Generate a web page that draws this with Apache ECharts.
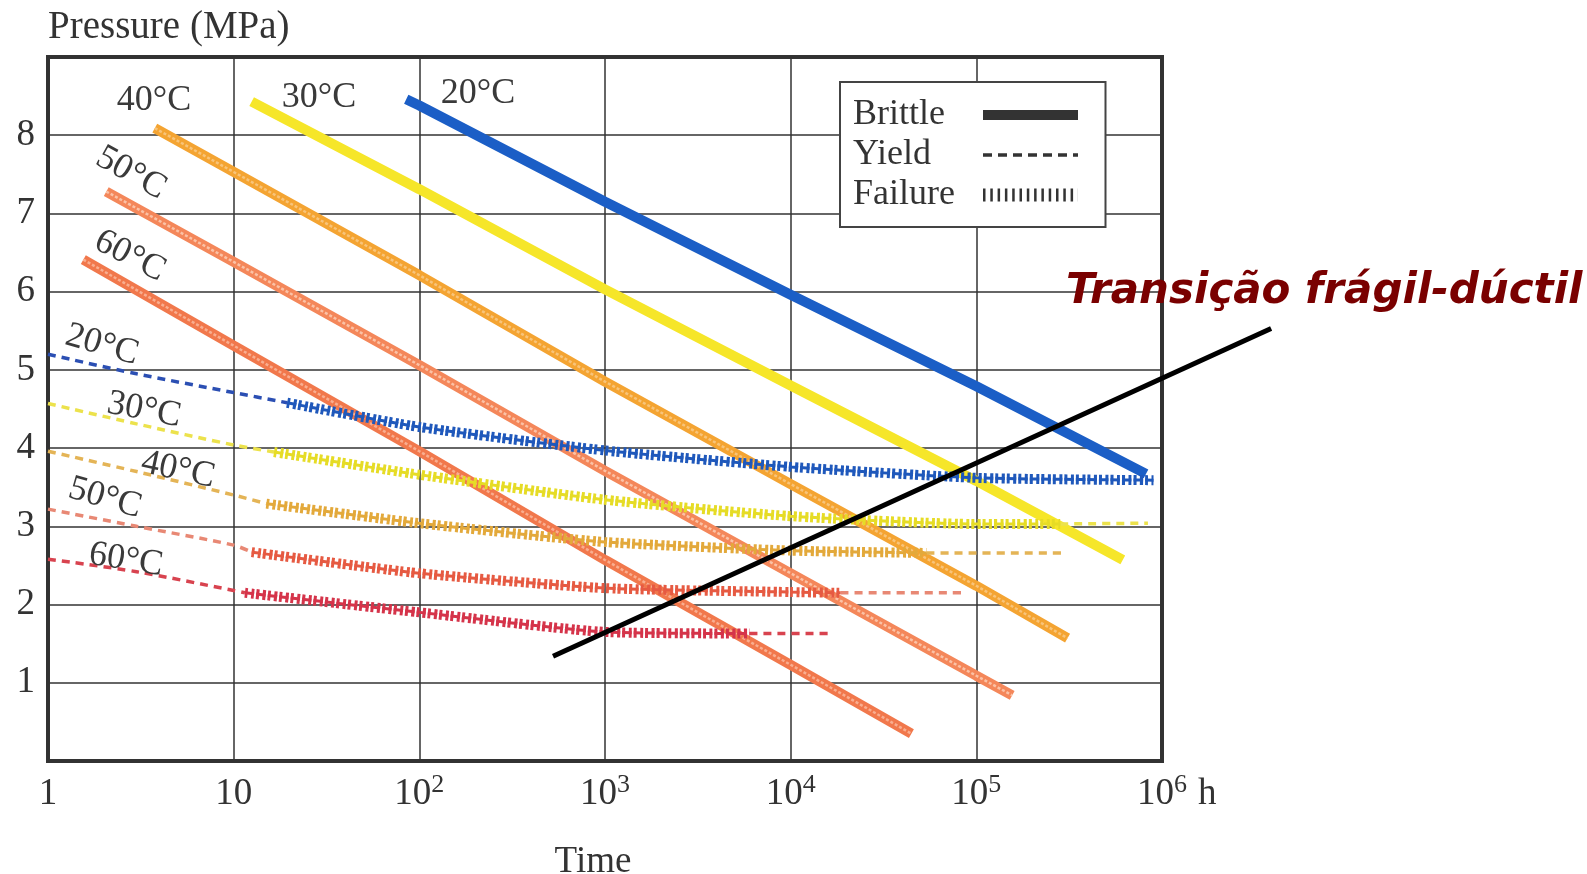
<!DOCTYPE html>
<html><head><meta charset="utf-8">
<script src="https://cdn.jsdelivr.net/npm/echarts@6/dist/echarts.min.js"></script>
<style>html,body{margin:0;padding:0;background:#fff}#c{width:1587px;height:874px}</style>
</head><body><div id="c"></div>
<script>
// ---------- data ----------
const temps = ['20°C', '30°C', '40°C', '50°C', '60°C'];
const xTicks = [1, 10, 100, 1000, 10000, 100000, 1000000];
const xTickLabels = ['{b|1}', '{b|10}', '{b|10}{s|2}', '{b|10}{s|3}', '{b|10}{s|4}', '{b|10}{s|5}', '{b|10}{s|6}'];
const yTicks = [1, 2, 3, 4, 5, 6, 7, 8];
const legendNames = ['Brittle', 'Yield', 'Failure'];

// Brittle fracture lines [time h, pressure MPa]
const brittle20 = [[85, 8.46], [100, 8.38], [1000, 7.15], [10000, 5.96], [100000, 4.79], [820000, 3.67]];
const brittle30 = [[12.5, 8.43], [100, 7.31], [1000, 6.03], [10000, 4.80], [100000, 3.58], [615000, 2.57]];
const brittle40 = [[3.76, 8.09], [10, 7.53], [100, 6.21], [1000, 4.85], [10000, 3.54], [100000, 2.24], [310000, 1.57]];
const brittle50 = [[2.06, 7.28], [10, 6.38], [100, 5.06], [1000, 3.71], [10000, 2.40], [100000, 1.09], [156000, 0.84]];
const brittle60 = [[1.55, 6.41], [10, 5.31], [100, 3.96], [1000, 2.57], [10000, 1.23], [44700, 0.35]];

// Yield (first part), failure, yield (after failure)
const yield20 = [[1, 5.2], [3, 4.95], [10, 4.71], [19.4, 4.58]];
const failure20 = [[19.4, 4.58], [100, 4.27], [1000, 3.97], [10000, 3.76], [100000, 3.62], [900000, 3.59]];
const yield30 = [[1, 4.57], [3, 4.31], [10, 4.04], [16.5, 3.95]];
const failure30 = [[16.5, 3.95], [100, 3.66], [1000, 3.34], [10000, 3.13], [100000, 3.03], [283000, 3.03]];
const yield30b = [[283000, 3.03], [840000, 3.04]];
const yield40 = [[1, 3.96], [3, 3.70], [10, 3.40], [15, 3.29]];
const failure40 = [[15, 3.29], [100, 3.04], [1000, 2.80], [10000, 2.69], [54000, 2.66]];
const yield40b = [[54000, 2.66], [297000, 2.66]];
const yield50 = [[1, 3.22], [3, 3.0], [10, 2.76], [12.5, 2.67]];
const failure50 = [[12.5, 2.67], [100, 2.40], [1000, 2.21], [10000, 2.16], [18600, 2.15]];
const yield50b = [[18600, 2.15], [85500, 2.15]];
const yield60 = [[1, 2.58], [3, 2.42], [10, 2.18], [11.5, 2.15]];
const failure60 = [[11.5, 2.15], [100, 1.90], [1000, 1.65], [6000, 1.63]];
const yield60b = [[6000, 1.63], [17000, 1.63]];

// Ductile-brittle transition line (runs out past the plot frame)
const transition = [[525, 1.34], [3870000, 5.53]];

// ---------- styles ----------
const FONT = '"Liberation Serif", "DejaVu Serif", serif';
const INK = '#333';
const brittleColor = ['#1b5ec6', '#f6e629', '#f4a432', '#f4875a', '#f1784c'];
const stripeColor = [null, null, '#f8c47a', '#fbc2a6', '#f9ae90'];
const failureColor = ['#1f58bb', '#e6dc26', '#e3a93b', '#e65a42', '#d5344a'];
const yieldColor = ['#2b4fb3', '#ece24c', '#e4b456', '#e88874', '#d8434f'];

const tempLabelPlacement = [
  {i: 2, x: 154, y: 101, r: 0}, {i: 1, x: 319, y: 98, r: 0}, {i: 0, x: 478, y: 94, r: 0},
  {i: 3, x: 131, y: 173, r: 29}, {i: 4, x: 130, y: 256, r: 27},
  {i: 0, x: 102, y: 345, r: 16}, {i: 1, x: 144, y: 410, r: 11}, {i: 2, x: 178, y: 470, r: 12},
  {i: 3, x: 105, y: 498, r: 16}, {i: 4, x: 126, y: 560, r: 9}
];

const brittleSets = [brittle20, brittle30, brittle40, brittle50, brittle60];
const yieldSets = [[yield20], [yield30, yield30b], [yield40, yield40b], [yield50, yield50b], [yield60, yield60b]];
const failureSets = [failure20, failure30, failure40, failure50, failure60];

const series = [];
brittleSets.forEach((d, k) => {
  series.push({type: 'line', data: d, symbol: 'none', silent: true, z: 2,
    lineStyle: {color: brittleColor[k], width: 10, cap: 'butt'}});
  if (stripeColor[k]) series.push({type: 'line', data: d, symbol: 'none', silent: true, z: 2,
    lineStyle: {color: stripeColor[k], width: 2.5, type: [3, 2]}});
});
yieldSets.forEach((arr, k) => arr.forEach(d => series.push({
  type: 'line', data: d, symbol: 'none', smooth: 0.3, silent: true, z: 3,
  lineStyle: {color: yieldColor[k], width: 3.5, type: [8, 6]}
})));
failureSets.forEach((d, k) => {
  series.push({type: 'line', data: d, symbol: 'none', smooth: 0.2, silent: true, z: 3,
    lineStyle: {color: failureColor[k], width: 10, type: [3, 3.5, 3, 2]}});
  series.push({type: 'line', data: d, symbol: 'none', smooth: 0.2, silent: true, z: 3,
    lineStyle: {color: failureColor[k], width: 3, type: [9.5, 2]}});
});
// transition line on an overlay coordinate system with the same scale but a wider time range
series.push({type: 'line', data: transition, xAxisIndex: 1, yAxisIndex: 1, symbol: 'none', silent: true,
  z: 6, clip: false, lineStyle: {color: '#000', width: 5}});
// legend-only series
series.push({name: legendNames[0], type: 'line', data: [], symbol: 'none', color: INK, lineStyle: {color: INK, width: 10}});
series.push({name: legendNames[1], type: 'line', data: [], symbol: 'none', color: INK, lineStyle: {color: INK, width: 3.5, type: [9, 6]}});
series.push({name: legendNames[2], type: 'line', data: [], symbol: 'none', color: INK, lineStyle: {color: INK, width: 13, type: [2.5, 4.8]}});

const graphics = tempLabelPlacement.map(p => ({
  type: 'text', x: p.x, y: p.y, rotation: -p.r * Math.PI / 180, z: 10,
  style: {text: temps[p.i], font: '36px ' + FONT, fill: '#3a3a3a', align: 'center', verticalAlign: 'middle'}
}));
graphics.push({type: 'text', x: 1066, y: 292, z: 10,
  style: {text: 'Transição frágil-dúctil', font: 'italic bold 42px "DejaVu Sans"', fill: '#7a0000', align: 'left', verticalAlign: 'middle'}});
graphics.push({type: 'text', x: 1198, y: 794, z: 10,
  style: {text: 'h', font: '37px ' + FONT, fill: INK, align: 'left', verticalAlign: 'middle'}});

const hideSym = {opacity: 0};
const X_MAX = 1000000;
const X_MAX_OVERLAY = 3900000;
const plotWidth = 1587 - 48 - 425;
const overlayWidth = plotWidth * Math.log10(X_MAX_OVERLAY) / Math.log10(X_MAX);

const chart = echarts.init(document.getElementById('c'));
chart.setOption({
  animation: false,
  backgroundColor: '#fff',
  grid: [
    {left: 48, top: 57, right: 425, bottom: 113, show: true, borderColor: INK, borderWidth: 4,
      containLabel: false, outerBoundsMode: 'none'},
    {left: 48, top: 57, width: overlayWidth, bottom: 113, show: false,
      containLabel: false, outerBoundsMode: 'none'}
  ],
  xAxis: [{
    type: 'log', logBase: 10, min: 1, max: X_MAX, gridIndex: 0,
    axisLine: {show: false}, axisTick: {show: false},
    splitLine: {show: true, lineStyle: {color: INK, width: 1.5}},
    axisLabel: {
      margin: 11, color: INK,
      formatter: v => {
        const l = Math.log10(v), n = Math.round(l);
        if (Math.abs(l - n) > 1e-6) return '';
        const i = xTicks.indexOf(Math.pow(10, n));
        return i >= 0 ? xTickLabels[i] : '';
      },
      rich: {
        b: {fontSize: 37, fontFamily: FONT, color: INK, lineHeight: 44},
        s: {fontSize: 26, fontFamily: FONT, color: INK, lineHeight: 44, verticalAlign: 'top'}
      }
    },
    name: 'Time', nameLocation: 'middle', nameGap: 83,
    nameTextStyle: {fontSize: 37, fontFamily: FONT, color: INK, padding: [0, 24, 0, 0]}
  }, {
    type: 'log', logBase: 10, min: 1, max: X_MAX_OVERLAY, gridIndex: 1, show: false
  }],
  yAxis: [{
    type: 'value', min: 0, max: 9, interval: 1, gridIndex: 0,
    axisLine: {show: false}, axisTick: {show: false},
    splitLine: {show: true, lineStyle: {color: INK, width: 1.5}},
    axisLabel: {margin: 13, fontSize: 37, fontFamily: FONT, color: INK,
      formatter: v => yTicks.includes(v) ? String(v) : ''},
    name: 'Pressure (MPa)', nameLocation: 'end', nameGap: 10,
    nameTextStyle: {align: 'left', verticalAlign: 'bottom', fontSize: 39, fontFamily: FONT, color: INK}
  }, {
    type: 'value', min: 0, max: 9, interval: 1, gridIndex: 1, show: false
  }],
  legend: {
    left: 840, top: 82, orient: 'vertical', align: 'right', selectedMode: false,
    padding: [15, 21, 14, 13], itemGap: 4, itemWidth: 95, itemHeight: 14,
    borderColor: '#444', borderWidth: 2, backgroundColor: '#fff',
    formatter: '{t|{name}}',
    textStyle: {fontSize: 36, fontFamily: FONT, color: INK,
      rich: {t: {width: 125, align: 'left', fontSize: 36, fontFamily: FONT, color: INK}}},
    data: [
      {name: legendNames[0], itemStyle: hideSym, lineStyle: {width: 10, type: 'solid', color: INK}},
      {name: legendNames[1], itemStyle: hideSym, lineStyle: {width: 3.5, type: [9, 6], color: INK}},
      {name: legendNames[2], itemStyle: hideSym, lineStyle: {width: 13, type: [2.5, 4.8], color: INK}}
    ]
  },
  graphic: graphics,
  series: series
});
</script></body></html>
